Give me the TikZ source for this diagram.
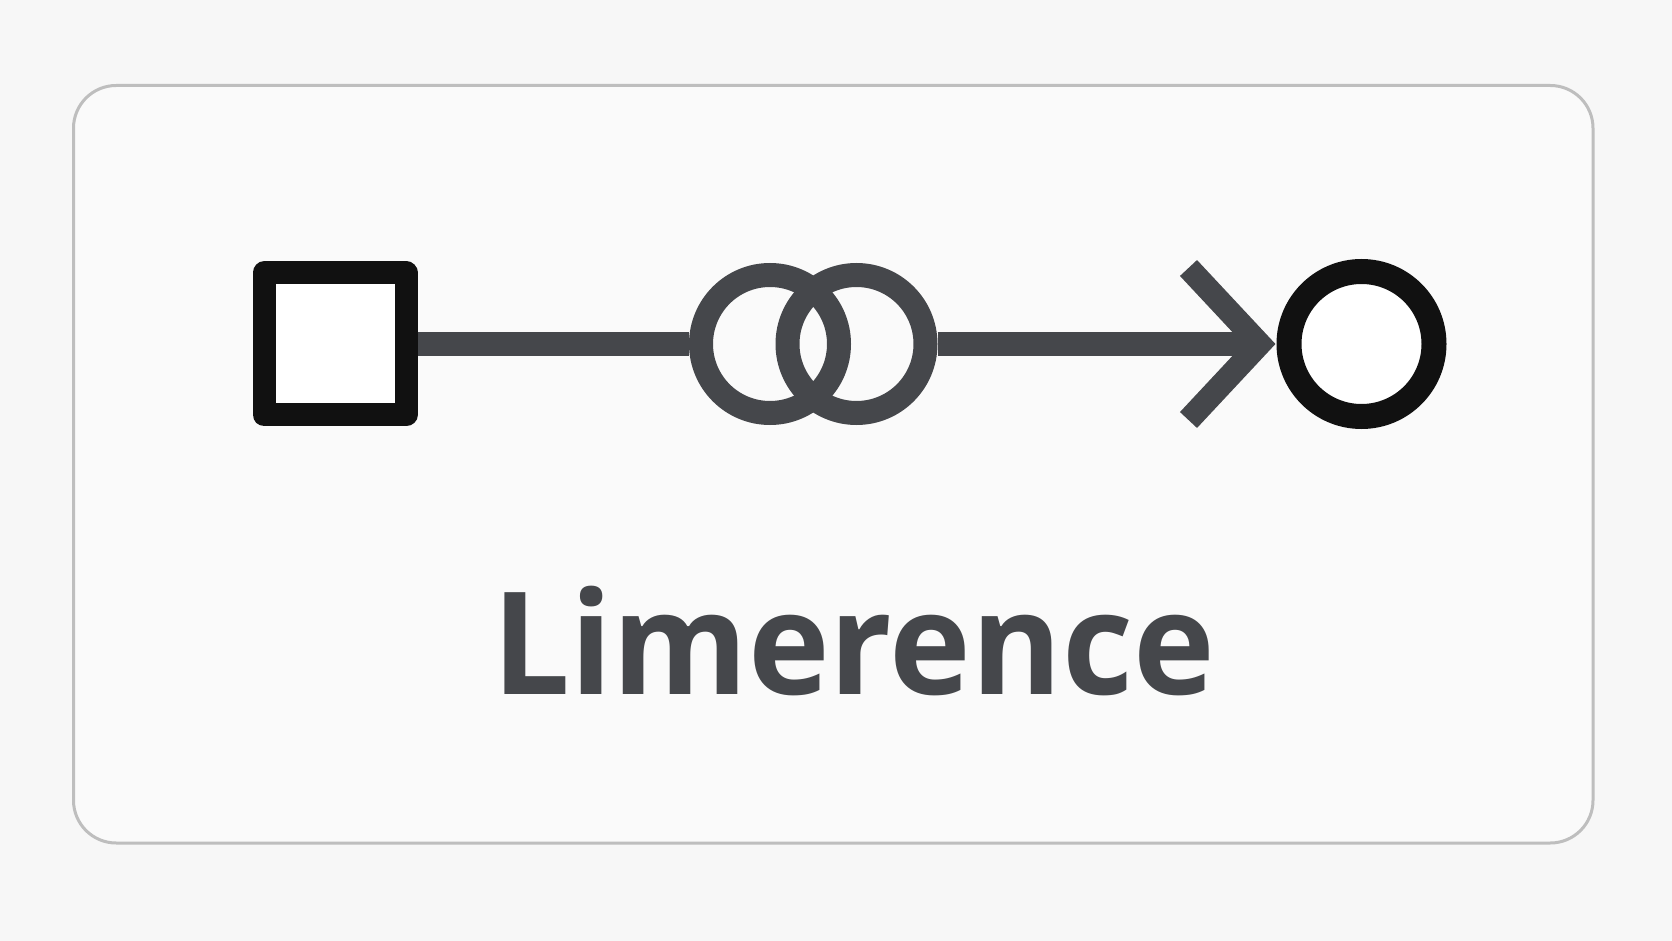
\documentclass[tikz,border=0pt]{standalone}
\usepackage{fontspec}
\usepackage{tikz}
\usetikzlibrary{calc}
\newfontfamily\labelfont{Open Sans}

\definecolor{inkgray}{RGB}{69,71,75}
\definecolor{inkblack}{RGB}{17,17,17}
\definecolor{framegray}{RGB}{190,190,190}
\definecolor{pagebg}{RGB}{247,247,247}
\definecolor{cardbg}{RGB}{250,250,250}

\tikzset{
  card/.style={draw=framegray, line width=2.25pt, fill=cardbg, rounded corners=32pt},
  startbox/.style={draw=inkblack, line width=17.25pt, line join=round, minimum size=106.5pt, inner sep=0pt, fill=white},
  ring/.style={circle, draw=inkgray, line width=18pt, minimum size=103.5pt, inner sep=0pt},
  endring/.style={circle, draw=inkblack, line width=18.75pt, minimum size=108.75pt, inner sep=0pt, fill=white},
  link/.style={draw=inkgray, line width=18pt},
  barb/.style={draw=inkgray, line width=17.5pt, line join=miter},
}

\begin{document}
\begin{tikzpicture}[x=0.75pt,y=0.75pt,yscale=-1]
\useasboundingbox[fill=pagebg] (0,0) rectangle (1672,941);

% card
\path[card] (73.5,85.5) rectangle (1593,843);

% nodes
\node[startbox] (sq) at (335,344) {};
\node[ring] (ringA) at (770,344) {};
\node[ring] (ringB) at (856.5,344) {};
\node[endring] (goal) at (1361.5,344) {};
\coordinate (tip) at (1259.5,344);

% connectors
\draw[link] (sq.east) -- (ringA.west);
\draw[link] (ringB.east) -- (tip);
\draw[barb] ($(tip)+(-71,-76)$) -- (tip) -- ($(tip)+(-71,76)$);

% label
\node[anchor=base, inner sep=0pt, text=inkgray, font=\labelfont\bfseries\fontsize{107}{120}\selectfont] (name) at (853.5,694) {\scalebox{0.968}[1]{Limerence}};

\end{tikzpicture}
\end{document}
